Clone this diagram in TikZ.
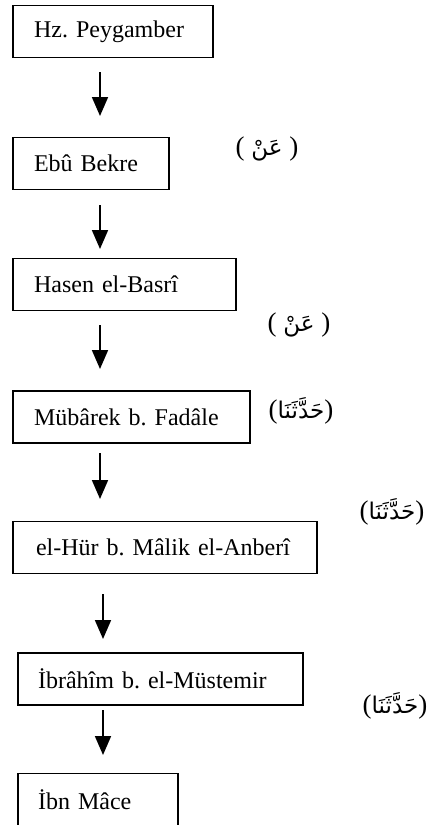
\documentclass[tikz,border=0pt]{standalone}
\usepackage{fontspec}
\setmainfont{Liberation Serif}
\newfontfamily\arabicfont[Script=Arabic]{DejaVu Sans}
\TeXXeTstate=1
\frenchspacing
\usetikzlibrary{arrows.meta}
\tikzset{
  box/.style={draw, line width=1.5pt, minimum height=52pt, inner xsep=21pt, inner ysep=0pt,
    align=left, anchor=north west, font=\fontsize{24}{28}\selectfont\frenchspacing},
  lbl/.style={inner sep=0pt, font=\fontsize{27}{30}\selectfont},
  conn/.style={line width=1.8pt, -{Triangle[width=16pt,length=19pt]}}
}
\newcommand{\ar}[1]{{\arabicfont\fontsize{23}{26}\selectfont\beginR #1\endR}}
\begin{document}
\begin{tikzpicture}[x=1pt,y=-1pt]
\useasboundingbox (0,0) rectangle (429,825);
% boxes
\node[box, text width=158pt] (b1) at (12.3,4.7) {Hz. Peygamber};
\node[box, text width=114pt] (b2) at (12.3,136.7) {Ebû Bekre};
\node[box, text width=181pt] (b3) at (12.3,257.8) {Hasen el-Basrî};
\node[box, text width=195pt] (b4) at (12.3,390.3) {Mübârek b. Fadâle};
\node[box, inner xsep=23pt, text width=258pt] (b5) at (12.3,520.5) {\mbox{el-Hür b. Mâlik el-Anberî}};
\node[box, inner xsep=20pt, text width=245pt] (b6) at (17.3,652.3) {\mbox{İbrâhîm b. el-Müstemir}};
\node[box, inner xsep=20pt, text width=120pt] (b7) at (17.3,772.5) {İbn Mâce};
% arrow end points
\coordinate (a1s) at (100,72);  \coordinate (a1e) at (100,116);
\coordinate (a2s) at (100,205); \coordinate (a2e) at (100,249);
\coordinate (a3s) at (100,325); \coordinate (a3e) at (100,369);
\coordinate (a4s) at (100,453); \coordinate (a4e) at (100,499);
\coordinate (a5s) at (103,594); \coordinate (a5e) at (103,639);
\coordinate (a6s) at (103,710); \coordinate (a6e) at (103,755);
\draw[conn] (a1s) -- (a1e);
\draw[conn] (a2s) -- (a2e);
\draw[conn] (a3s) -- (a3e);
\draw[conn] (a4s) -- (a4e);
\draw[conn] (a5s) -- (a5e);
\draw[conn] (a6s) -- (a6e);
% labels
\node[lbl] (l1) at (267,149) {( \ar{عَنْ} )};
\node[lbl] (l2) at (299,325) {( \ar{عَنْ} )};
\node[lbl] (l3) at (301,411) {(\ar{حَدَّثَنَا})};
\node[lbl] (l4) at (392,512) {(\ar{حَدَّثَنَا})};
\node[lbl] (l5) at (395,706) {(\ar{حَدَّثَنَا})};
\end{tikzpicture}
\end{document}
